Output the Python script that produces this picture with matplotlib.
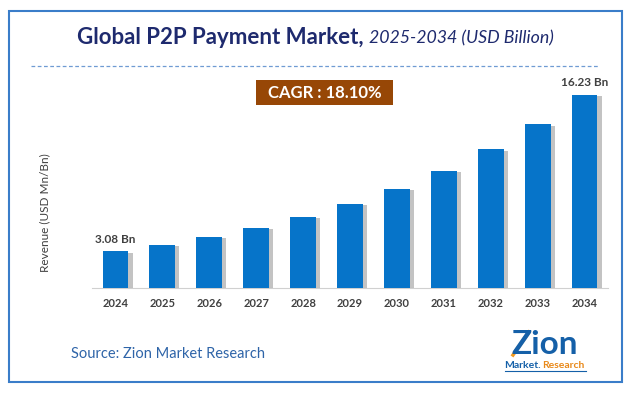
import matplotlib.pyplot as plt
import matplotlib.patheffects as pe
from matplotlib.patches import Rectangle

years = ['2024', '2025', '2026', '2027', '2028', '2029', '2030', '2031', '2032', '2033', '2034']
revenue = [3.08, 3.64, 4.30, 5.07, 5.99, 7.07, 8.35, 9.86, 11.65, 13.76, 16.23]
value_labels = {0: '3.08 Bn', 10: '16.23 Bn'}

plt.rcParams['font.family'] = ['Lato', 'DejaVu Sans']

fig = plt.figure(figsize=(6.34, 3.94), dpi=100)
W, H = 634, 394

def fx(px):
    return px / W

def fy(py):
    return 1 - py / H

# outer border
fig.patches.append(Rectangle((fx(9), fy(382)), fx(622) - fx(9), fy(11) - fy(382),
                             transform=fig.transFigure, fill=False, edgecolor='#3a7dc9', linewidth=1.5))

# title
fig.text(fx(364), fy(38), 'Global P2P Payment Market,', ha='right', va='center',
         fontsize=16, fontweight='bold', color='#1e2a6e')
fig.text(fx(369), fy(38), '2025-2034 (USD Billion)', ha='left', va='center',
         fontsize=12.8, style='italic', color='#1e2a6e')

# dashed line under title
fig.add_artist(plt.Line2D([fx(31), fx(599)], [fy(66), fy(66)], transform=fig.transFigure,
                          color='#6f9bd3', linestyle=(0, (3, 2)), linewidth=0.9))

# CAGR box
fig.patches.append(Rectangle((fx(256), fy(105)), fx(393) - fx(256), fy(80) - fy(105),
                             transform=fig.transFigure, facecolor='#974706', edgecolor='none'))
fig.text(fx(324.5), fy(93), 'CAGR : 18.10%', ha='center', va='center',
         fontsize=12, fontweight='bold', color='white')

ax = fig.add_axes([fx(92), fy(288), fx(608) - fx(92), fy(90) - fy(288)])
x = list(range(len(years)))
bars = ax.bar(x, revenue, width=0.55, color='#0674c9', zorder=3)
for b in bars:
    b.set_path_effects([pe.SimplePatchShadow(offset=(3, -1), shadow_rgbFace='#555555', alpha=0.35),
                        pe.Normal()])

for i, lab in value_labels.items():
    ax.text(i, revenue[i] + 0.55, lab, ha='center', va='bottom', fontsize=8.5,
            fontweight='bold', color='#404040')

ax.set_xlim(-0.5, 10.5)
ax.set_ylim(0, 16.65)
ax.set_xticks(x)
ax.set_xticklabels(years, fontsize=8, fontweight='bold', color='#404040')
ax.tick_params(axis='x', length=0, pad=7)
ax.set_yticks([])
for s in ['top', 'right', 'left']:
    ax.spines[s].set_visible(False)
ax.spines['bottom'].set_color('#d0d0d0')
ax.set_facecolor('none')

fig.text(fx(45), fy(213), 'Revenue (USD Mn/Bn)', rotation=90, ha='center', va='center',
         fontsize=8.5, color='#404040')

fig.text(fx(71), fy(354), 'Source: Zion Market Research', ha='left', va='center',
         fontsize=10.5, color='#2e64a8')

# logo
fig.text(fx(545), fy(345), 'Zion', ha='center', va='center', fontsize=24,
         fontweight='bold', color='#1560a8')
fig.add_artist(plt.Line2D([fx(513), fx(529)], [fy(355), fy(332)], transform=fig.transFigure,
                          color='#f29a1f', linewidth=2.5))
fig.text(fx(541), fy(366), 'Market.', ha='right', va='center', fontsize=7.5,
         fontweight='bold', color='#1560a8')
fig.text(fx(542), fy(366), 'Research', ha='left', va='center', fontsize=7.5,
         fontweight='bold', color='#e8891a')
fig.add_artist(plt.Line2D([fx(505), fx(586)], [fy(371), fy(371)], transform=fig.transFigure,
                          color='#1560a8', linewidth=0.8))

fig.savefig('out.png', dpi=100)
